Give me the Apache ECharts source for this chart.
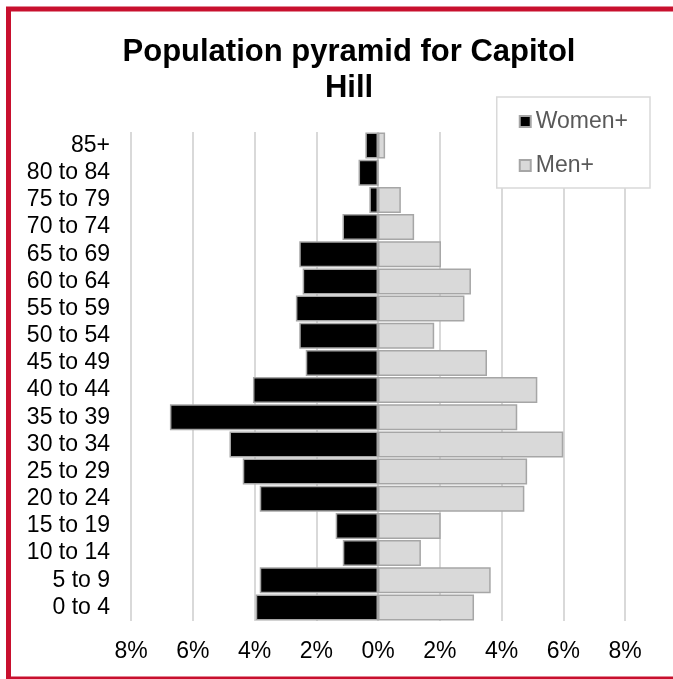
<!DOCTYPE html>
<html>
<head>
<meta charset="utf-8">
<script src="https://cdn.jsdelivr.net/npm/echarts@6/dist/echarts.min.js"></script>
<style>
  html, body { margin: 0; padding: 0; background: #fff; }
  #chart { width: 673px; height: 679px; }
</style>
</head>
<body>
<div id="chart"></div>
<script>
// age groups, bottom to top
const ageGroups = ["0 to 4", "5 to 9", "10 to 14", "15 to 19", "20 to 24", "25 to 29",
  "30 to 34", "35 to 39", "40 to 44", "45 to 49", "50 to 54", "55 to 59",
  "60 to 64", "65 to 69", "70 to 74", "75 to 79", "80 to 84", "85+"];

// share of population, %
const women = [3.96, 3.83, 1.14, 1.37, 3.83, 4.38, 4.81, 6.74, 4.05, 2.34, 2.55, 2.66,
  2.44, 2.55, 1.15, 0.28, 0.63, 0.41];
const men = [3.11, 3.65, 1.39, 2.03, 4.74, 4.83, 6.0, 4.51, 5.16, 3.53, 1.82, 2.8,
  3.01, 2.04, 1.17, 0.74, 0, 0.23];

const xTicks = [-8, -6, -4, -2, 0, 2, 4, 6, 8];

const font = "'Liberation Sans', Arial, sans-serif";

const chart = echarts.init(document.getElementById("chart"));

const option = {
  animation: false,
  textStyle: { fontFamily: font },
  title: {
    text: "Population pyramid for Capitol\nHill",
    left: 344,
    textAlign: "center",
    top: 29,
    textStyle: {
      fontFamily: font,
      fontSize: 31,
      fontWeight: "bold",
      color: "#000",
      lineHeight: 36
    }
  },
  legend: {
    orient: "vertical",
    right: 23,
    top: 97,
    padding: [13, 22, 11, 22],
    itemGap: 21,
    itemWidth: 11,
    itemHeight: 11,
    backgroundColor: "#fff",
    borderColor: "#d9d9d9",
    borderWidth: 1.5,
    textStyle: { fontFamily: font, fontSize: 23, color: "#595959" },
    data: [
      { name: "Women+", icon: "rect" },
      { name: "Men+", icon: "rect" }
    ]
  },
  graphic: [
    {
      type: "rect",
      z: 100,
      silent: true,
      shape: { x: 8.5, y: 9, width: 680, height: 670 },
      style: { fill: "none", stroke: "#c8102e", lineWidth: 5 }
    }
  ],
  grid: {
    left: 131,
    right: 48,
    top: 132,
    bottom: 58
  },
  xAxis: {
    type: "value",
    min: xTicks[0],
    max: xTicks[xTicks.length - 1],
    interval: 2,
    axisLine: { show: false },
    axisTick: { show: false },
    splitLine: { show: true, lineStyle: { color: "#d9d9d9", width: 2 } },
    axisLabel: {
      fontFamily: font,
      fontSize: 23,
      color: "#000",
      margin: 19,
      formatter: v => Math.abs(v) + "%"
    }
  },
  yAxis: {
    type: "category",
    data: ageGroups,
    axisLine: { show: false },
    axisTick: { show: false },
    axisLabel: {
      interval: 0,
      fontFamily: font,
      fontSize: 23,
      color: "#000",
      margin: 21
    }
  },
  series: [
    {
      name: "Women+",
      type: "bar",
      data: women.map(v => -v),
      barCategoryGap: "4%",
      barGap: "-100%",
      itemStyle: { color: "#000", borderColor: "#a6a6a6", borderWidth: 1.5 }
    },
    {
      name: "Men+",
      type: "bar",
      data: men,
      barCategoryGap: "4%",
      barGap: "-100%",
      itemStyle: { color: "#d9d9d9", borderColor: "#a6a6a6", borderWidth: 1.5 }
    }
  ]
};

chart.setOption(option);
</script>
</body>
</html>
